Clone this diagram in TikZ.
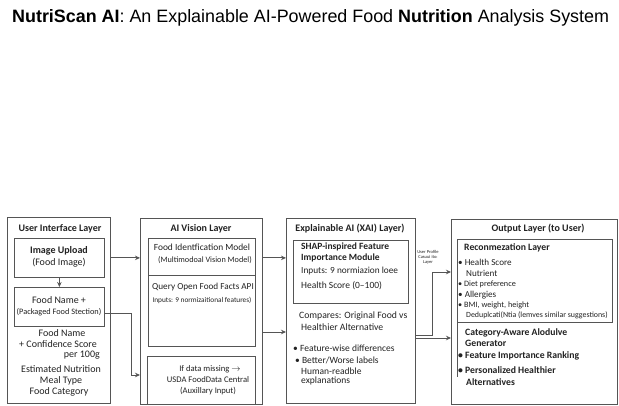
\documentclass[tikz,border=0pt]{standalone}
\usepackage{fontspec}
\setmainfont{Carlito}
\newfontfamily\titlefont{Liberation Sans}
\usetikzlibrary{arrows.meta}
\definecolor{linec}{HTML}{555555}
\definecolor{txtc}{HTML}{222222}
\begin{document}
\begin{tikzpicture}[x=1pt,y=-1pt,
  box/.style={draw=linec, line width=0.8pt, inner sep=0, anchor=north west},
  txt/.style={inner sep=0, text=txtc, font=\fontsize{10}{11}\selectfont},
  fs/.style={font=\fontsize{#1}{#1}\selectfont},
  fb/.style={font=\bfseries\fontsize{#1}{#1}\selectfont},
  hd/.style={txt, fb=10},
  conn/.style={draw=linec, line width=0.8pt},
  arr/.style={conn, -{Stealth[length=5pt,width=4.5pt]}}
]
\useasboundingbox (0,0) rectangle (619,406);
\fill[white] (0,0) rectangle (619,406);

% title
\node[anchor=west, inner sep=0, text=black, font=\titlefont\fontsize{17.9}{20}\selectfont] (title) at (12,18)
  {\textbf{NutriScan AI}: An Explainable AI-Powered Food \textbf{Nutrition} Analysis System};

% ---------- User Interface Layer ----------
\node[box, minimum width=103pt, minimum height=186pt] (ui) at (7,217) {};
\node[hd] (uit) at (60,229) {User Interface Layer};
\node[box, minimum width=90pt, minimum height=39pt] (img) at (14,238) {};
\node[txt, fb=10] at (59,251) {Image Upload};
\node[txt] at (59,263) {(Food Image)};
\node[box, minimum width=90pt, minimum height=39pt] (fn) at (14,287) {};
\node[txt] at (59,300) {Food Name +};
\node[txt, fs=8.3] at (59,312) {(Packaged Food Stection)};
\node[txt] at (62,333) {Food Name};
\node[txt] at (58,344) {+ Confidence Score};
\node[txt, anchor=east] at (100,355) {per 100g};
\node[txt] at (61,369) {Estimated Nutrition};
\node[txt] at (61,381) {Meal Type};
\node[txt] at (59,392) {Food Category};
\draw[arr] (img.south) -- (fn.north);

% ---------- AI Vision Layer ----------
\node[box, minimum width=122pt, minimum height=186pt] (vis) at (140,218) {};
\node[hd] at (201,229) {AI Vision Layer};
\node[box, minimum width=107pt, minimum height=108pt] (fid) at (148,238) {};
\draw[conn] (fid.west |- 0,275) -- (fid.east |- 0,275);
\node[txt, fs=9.4] at (202,247) {Food Identfication Model};
\node[txt, fs=8.2] at (205,260) {(Multimodoal Vision Model)};
\node[txt, fs=9.2] at (203,287) {Query Open Food Facts API};
\node[txt, fs=7.3] at (202,300) {Inputs: 9 normizaitional features)};
\node[box, minimum width=108pt, minimum height=48pt] (usda) at (147,356) {};
\node[txt, fs=8.6] at (210,369) {If data missing $\rightarrow$};
\node[txt, fs=8.6] at (208,380) {USDA FoodData Central};
\node[txt, fs=8.6] at (208,391) {(Auxillary Input)};

% ---------- XAI Layer ----------
\node[box, minimum width=129pt, minimum height=185pt] (xai) at (286,218) {};
\node[hd] at (350,229) {Explainable AI (XAI) Layer)};
\node[box, minimum width=115pt, minimum height=63pt] (shap) at (293,240) {};
\node[txt, fb=9.5, anchor=west] at (301,247) {SHAP-inspired Feature};
\node[txt, fb=9.5, anchor=west] at (301,258) {Importance Module};
\node[txt, fs=9.3, anchor=west] at (301,271) {Inputs: 9 normiazion loee};
\node[txt, fs=9.5, anchor=west] at (301,286) {Health Score (0--100)};
\node[txt, fs=9.7, anchor=west] at (299,316) {Compares: Original Food vs};
\node[txt, fs=9.7, anchor=west] at (301,327) {Healthier Alternative};
\node[txt, fs=9.5, anchor=west] at (293,348) {\textbullet\ Feature-wise differences};
\node[txt, fs=9.5, anchor=west] at (295,360) {\textbullet\ Better/Worse labels};
\node[txt, fs=9.5, anchor=west] at (301,371) {Human-readble};
\node[txt, fs=9.5, anchor=west] at (301,381) {explanations};

% ---------- Output Layer ----------
\node[box, minimum width=166pt, minimum height=185pt] (out) at (451,219) {};
\node[hd] at (538,229) {Output Layer (to User)};
\node[box, minimum width=155pt, minimum height=83pt] (rec) at (457,239) {};
\node[txt, fb=9.7, anchor=west] at (464,248) {Reconmezation Layer};
\node[txt, fs=9.1, anchor=west] at (458,262) {\textbullet\ Health Score};
\node[txt, fs=9.1, anchor=west] at (466,273) {Nutrient};
\node[txt, fs=8.2, anchor=west] at (458,284) {\textbullet\ Diet preference};
\node[txt, fs=9.1, anchor=west] at (458,295) {\textbullet\ Allergies};
\node[txt, fs=8.2, anchor=west] at (458,305) {\textbullet\ BMI, weight, height};
\node[txt, fs=7.9, anchor=west] at (466,315) {Deduplcati(Ntia (lemves similar suggestions)};
\draw[conn] (rec.south west) -- (457,377);
\node[txt, fb=9.7, anchor=west] at (465,333) {Category-Aware Alodulve};
\node[txt, fb=9.7, anchor=west] at (465,343) {Generator};
\node[txt, fb=9.7, anchor=west] at (458,356) {\textbullet\ Feature Importance Ranking};
\node[txt, fb=9.7, anchor=west] at (458,370) {\textbullet\ Personalized Healthier};
\node[txt, fb=9.7, anchor=west] at (466,382) {Alternatives};

% ---------- connectors ----------
\draw[arr] (ui.east |- img.east) -- (vis.west |- img.east);
\coordinate (fnout) at (104,313);
\coordinate (usdain) at (140,375);
\draw[arr] (fnout) -| (131,375) -- (usdain);
\draw[arr] (vis.east |- img.east) -- (xai.west |- img.east);
\coordinate (v2) at (262,332);
\draw[arr] (v2) -- (xai.west |- v2);
\coordinate (x1) at (415,335);
\coordinate (o1) at (451,272);
\draw[arr] (x1) -| (432,272) -- (o1);
\coordinate (x2) at (415,338);
\draw[arr] (x2) -- (out.west |- x2);
\node[txt, font=\fontsize{4.5}{5}\selectfont, align=center] (upl) at (428,257) {User Profile\\Casuui ito:\\Layer};
\end{tikzpicture}
\end{document}
